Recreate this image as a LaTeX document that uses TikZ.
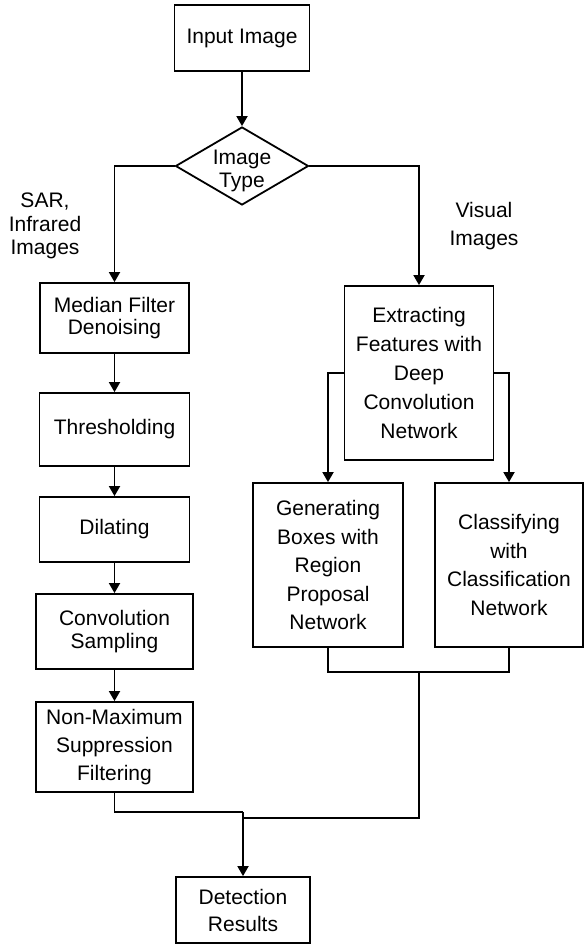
\documentclass[tikz,border=0pt]{standalone}
\usepackage{fontspec}
\setmainfont{Liberation Sans}
\usetikzlibrary{shapes.geometric,arrows.meta}
\begin{document}
\begin{tikzpicture}[x=1pt,y=-1pt,
  box/.style={draw, line width=1.8pt, inner sep=0pt, align=center, font=\fontsize{21}{28.5}\selectfont},
  lbl/.style={inner sep=0pt, align=center, font=\fontsize{21}{23.5}\selectfont},
  conn/.style={line width=1.8pt},
  arr/.style={line width=1.8pt, -{Triangle[length=10pt,width=11pt]}}]
\useasboundingbox (0,0) rectangle (584,944);
% boxes
\node[box, minimum width=135pt, minimum height=66pt] (input) at (242,38) {Input Image};
\node[draw, diamond, line width=1.8pt, minimum width=133pt, minimum height=78pt, inner sep=0pt] (type) at (242,166)
  {\raisebox{-11pt}[0pt][0pt]{\makebox[0pt]{\fontsize{21}{23}\selectfont\begin{tabular}{@{}c@{}}Image\\Type\end{tabular}}}};
\node[box, minimum width=149pt, minimum height=70pt, font=\fontsize{21}{22}\selectfont] (med) at (114.5,318) {Median Filter\\Denoising};
\node[box, minimum width=150pt, minimum height=73pt] (thr) at (114.5,429.5) {Thresholding};
\node[box, minimum width=150pt, minimum height=65pt] (dil) at (114.5,529.5) {Dilating};
\node[box, minimum width=157pt, minimum height=75pt, font=\fontsize{21}{23}\selectfont] (conv) at (114.5,631.5) {Convolution\\Sampling};
\node[box, minimum width=157pt, minimum height=90pt, font=\fontsize{21}{28}\selectfont] (nms) at (114.5,747) {Non-Maximum\\Suppression\\Filtering};
\node[box, minimum width=134pt, minimum height=66pt, font=\fontsize{21}{27}\selectfont] (det) at (243,910) {Detection\\Results};
\node[box, minimum width=149pt, minimum height=174pt, font=\fontsize{21}{29}\selectfont] (ext) at (419,373) {Extracting\\Features with\\Deep\\Convolution\\Network};
\node[box, minimum width=150pt, minimum height=164pt] (gen) at (328,565) {Generating\\Boxes with\\Region\\Proposal\\Network};
\node[box, minimum width=148pt, minimum height=164pt] (cls) at (509,565) {Classifying\\with\\Classification\\Network};
% labels
\node[lbl] (sar) at (45,226) {SAR,\\Infrared\\Images};
\node[lbl, font=\fontsize{21}{28}\selectfont] (vis) at (484,226) {Visual\\Images};
% connectors
\draw[arr] (input) -- (type);
\draw[arr] (type.west) -| (med.north);
\draw[arr] (type.east) -| (ext.north);
\draw[arr] (med) -- (thr);
\draw[arr] (thr) -- (dil);
\draw[arr] (dil) -- (conv);
\draw[arr] (conv) -- (nms);
\draw[arr] (ext.west) -| (gen.north);
\draw[arr] (ext.east) -| (cls.north);
\coordinate (jr) at (419,672);
\coordinate (jb) at (243,818);
\coordinate (jl) at (243,812);
\draw[conn] (gen.south) |- (jr) -| (cls.south);
\draw[conn] (jr) |- (jb);
\draw[conn] (nms.south) |- (jl);
\draw[arr] (jl) -- (det.north);
\end{tikzpicture}
\end{document}
